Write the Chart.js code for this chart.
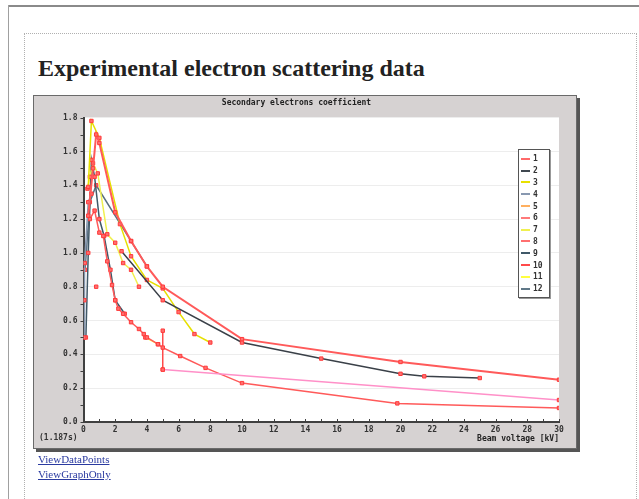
<!DOCTYPE html>
<html>
<head>
<meta charset="utf-8">
<script src="https://cdn.jsdelivr.net/npm/chart.js@4"></script>
<style>
  body { margin: 0; background: #fff; width: 639px; height: 499px; overflow: hidden; position: relative; font-family: "Liberation Serif", serif; }
  #frameTop { position: absolute; left: 8px; top: 5px; width: 640px; height: 2px; background: #8a8a8a; }
  #frameLeft { position: absolute; left: 8px; top: 5px; width: 1px; height: 500px; background: #a0a0a0; }
  #inner { position: absolute; left: 24px; top: 33px; width: 611px; height: 480px; border: 1px dotted #b0b0b0; }
  h1 { position: absolute; left: 38px; top: 56px; margin: 0; font-size: 24px; line-height: 24px; font-weight: bold; color: #222; white-space: nowrap; }
  #chartBox { position: absolute; left: 33px; top: 95px; width: 542px; height: 352px; border: 1px solid #6a6a6a; box-shadow: 3px 3px 0 #555; background: #d6d2d2; }
  #chartBox canvas { display: block; }
  #elapsed { position: absolute; left: 5px; top: 337px; font: bold 8px "DejaVu Sans Mono", monospace; color: #333; }
  #legend { position: absolute; left: 484px; top: 53px; width: 28px; padding: 3px 0 2px 2px; border: 1px solid #555; background: #fff; box-shadow: 1px 1px 0 #999; }
  .row { height: 11.8px; display: flex; align-items: center; font: bold 8px "DejaVu Sans Mono", monospace; color: #333; }
  .row span.sw { display: inline-block; width: 9px; height: 2px; margin-right: 3px; }
  .links { position: absolute; left: 38px; font-size: 11px; color: #2a3aa0; text-decoration: underline; }
</style>
</head>
<body>
<div id="frameTop"></div>
<div id="frameLeft"></div>
<div id="inner"></div>
<h1>Experimental electron scattering data</h1>
<div id="chartBox">
  <canvas id="myChart" width="542" height="352"></canvas>
  <div id="elapsed">(1.187s)</div>
  <div id="legend"></div>
</div>
<div class="links" style="top:453px">ViewDataPoints</div>
<div class="links" style="top:468px">ViewGraphOnly</div>
<script>
// series names shown in the legend
var seriesNames = ['1', '2', '3', '4', '5', '6', '7', '8', '9', '10', '11', '12'];
var lineColors = ['#ff5a5a', '#3a4048', '#e6e000', '#8898b0', '#ffa860', '#ff90c8',
                  '#f0f050', '#ff5a5a', '#405868', '#ff4a4a', '#ffff40', '#5a7080'];
var legendColors = ['#ff6a6a', '#404850', '#e8e000', '#8898b0', '#ffb060', '#ff7a7a',
                    '#f0f050', '#ff7070', '#405868', '#ff4a4a', '#ffff40', '#607888'];

// [beam voltage kV, coefficient]
var s1 = [[0.3, 1.22], [0.6, 1.5], [0.8, 1.70], [1.0, 1.65], [2.0, 1.24], [3.0, 1.07], [4.0, 0.92], [5.0, 0.80], [10, 0.49], [20, 0.355], [30, 0.25]];
var s2 = [[2.4, 1.01], [5.0, 0.72], [10, 0.47], [15, 0.375], [20, 0.285], [21.5, 0.27], [25, 0.26]];
var s3 = [[0.3, 1.39], [0.5, 1.78], [1.0, 1.68], [2.3, 1.17], [3.0, 0.98], [4.0, 0.84], [5.0, 0.79], [6.0, 0.65], [7.0, 0.52], [8.0, 0.47]];
var s4 = [[0.05, 0.5], [0.05, 0.72], [0.08, 0.94], [0.3, 1.3], [0.5, 1.35]];
var s5 = [[0.8, 0.80]];
var s6 = [[5.0, 0.31], [30, 0.13]];
var s7 = [[0.25, 1.38], [0.4, 1.45], [0.6, 1.53], [0.9, 1.47], [1.5, 1.11], [2.0, 1.06], [2.5, 0.94], [3.0, 0.90], [3.5, 0.80]];
var s8 = [[0.4, 1.2], [0.7, 1.25], [1.0, 1.12], [1.25, 1.10], [1.5, 0.95], [1.8, 0.81], [2.0, 0.72], [2.2, 0.67], [2.5, 0.64], [3.0, 0.59], [3.5, 0.55], [3.8, 0.52], [4.0, 0.50], [4.7, 0.46], [5.0, 0.44], [6.1, 0.39], [7.7, 0.32], [10, 0.23], [19.8, 0.11], [30, 0.083]];
var s9 = [[0.15, 0.5], [0.3, 1.0], [0.5, 1.55], [0.7, 1.45], [1.0, 1.2], [1.3, 1.1], [1.7, 0.9], [2.0, 0.72], [2.6, 0.64]];
var s10 = [[5.0, 0.54], [5.0, 0.31]];
var s11 = [[3.9, 0.50], [4.7, 0.46]];
var s12 = [[0.1, 0.9], [0.4, 1.3], [0.8, 1.4], [3.0, 1.07], [4.0, 0.92]];

var allSeries = [s1, s2, s3, s4, s5, s6, s7, s8, s9, s10, s11, s12];

var monoFont = { family: 'DejaVu Sans Mono', size: 8, weight: 'bold' };

var datasets = allSeries.map(function (s, i) {
  return {
    label: seriesNames[i],
    data: s.map(function (p) { return { x: p[0], y: p[1] }; }),
    borderColor: lineColors[i],
    borderWidth: i === 0 ? 2 : 1.5,
    showLine: i !== 4,
    tension: 0,
    fill: false,
    pointStyle: 'rect',
    pointRadius: 2.4,
    pointBackgroundColor: '#ff7070',
    pointBorderColor: '#ff3a3a',
    pointBorderWidth: 1
  };
});

// short tick marks: inward on x, outward on y
var tickMarks = {
  id: 'tickMarks',
  afterDraw: function (chart) {
    var c = chart.ctx, xs = chart.scales.x, ys = chart.scales.y;
    c.save();
    c.strokeStyle = '#404040';
    c.lineWidth = 1;
    c.beginPath();
    for (var v = 0; v <= 30; v++) {
      var px = Math.round(xs.getPixelForValue(v)) + 0.5;
      c.moveTo(px, ys.bottom);
      c.lineTo(px, ys.bottom - 3);
    }
    for (var k = 0; k <= 18; k++) {
      var py = Math.round(ys.getPixelForValue(k / 10)) + 0.5;
      c.moveTo(xs.left, py);
      c.lineTo(xs.left - 3, py);
    }
    c.stroke();
    c.restore();
  }
};

var plotBg = {
  id: 'plotBg',
  beforeDraw: function (chart) {
    var a = chart.chartArea, c = chart.ctx;
    c.save();
    c.fillStyle = '#ffffff';
    c.fillRect(a.left, a.top, a.right - a.left, a.bottom - a.top);
    c.restore();
  }
};

var ctx = document.getElementById('myChart');
var myChart = new Chart(ctx, {
  type: 'line',
  data: { datasets: datasets },
  options: {
    responsive: false,
    animation: false,
    layout: { padding: { left: 0, right: 17, top: 0, bottom: 0 } },
    plugins: {
      legend: { display: false },
      tooltip: { enabled: false },
      title: {
        display: true,
        text: 'Secondary electrons coefficient',
        font: monoFont,
        color: '#222',
        padding: { top: 2, bottom: 10 }
      }
    },
    scales: {
      x: {
        type: 'linear',
        min: 0,
        max: 30,
        ticks: {
          stepSize: 1,
          autoSkip: false,
          maxRotation: 0,
          padding: 3,
          font: monoFont,
          color: '#333',
          callback: function (v) { return v % 2 === 0 ? v : ''; }
        },
        grid: { drawTicks: false, color: 'rgba(0,0,0,0)' },
        border: { color: '#404040', width: 2 },
        title: {
          display: true,
          text: 'Beam voltage [kV]',
          align: 'end',
          font: monoFont,
          color: '#222',
          padding: { top: 0, bottom: 4 }
        },
        afterFit: function (s) { s.height = 26; }
      },
      y: {
        min: 0,
        max: 1.8,
        ticks: {
          stepSize: 0.1,
          autoSkip: false,
          padding: 6,
          font: monoFont,
          color: '#333',
          callback: function (v) { return Math.round(v * 10) % 2 === 0 ? v.toFixed(1) : ''; }
        },
        grid: {
          drawTicks: false,
          color: function (c) {
            return Math.round(c.tick.value * 10) % 2 === 0 && c.tick.value > 0 ? '#ededed' : 'rgba(0,0,0,0)';
          }
        },
        border: { color: '#404040', width: 2 },
        afterFit: function (s) { s.width = 49.5; }
      }
    }
  },
  plugins: [plotBg, tickMarks]
});

// legend box inside the plot, built from the series names
var lg = document.getElementById('legend');
seriesNames.forEach(function (n, i) {
  var r = document.createElement('div');
  r.className = 'row';
  r.innerHTML = '<span class="sw" style="background:' + legendColors[i] + '"></span>' + n;
  lg.appendChild(r);
});
</script>
</body>
</html>
